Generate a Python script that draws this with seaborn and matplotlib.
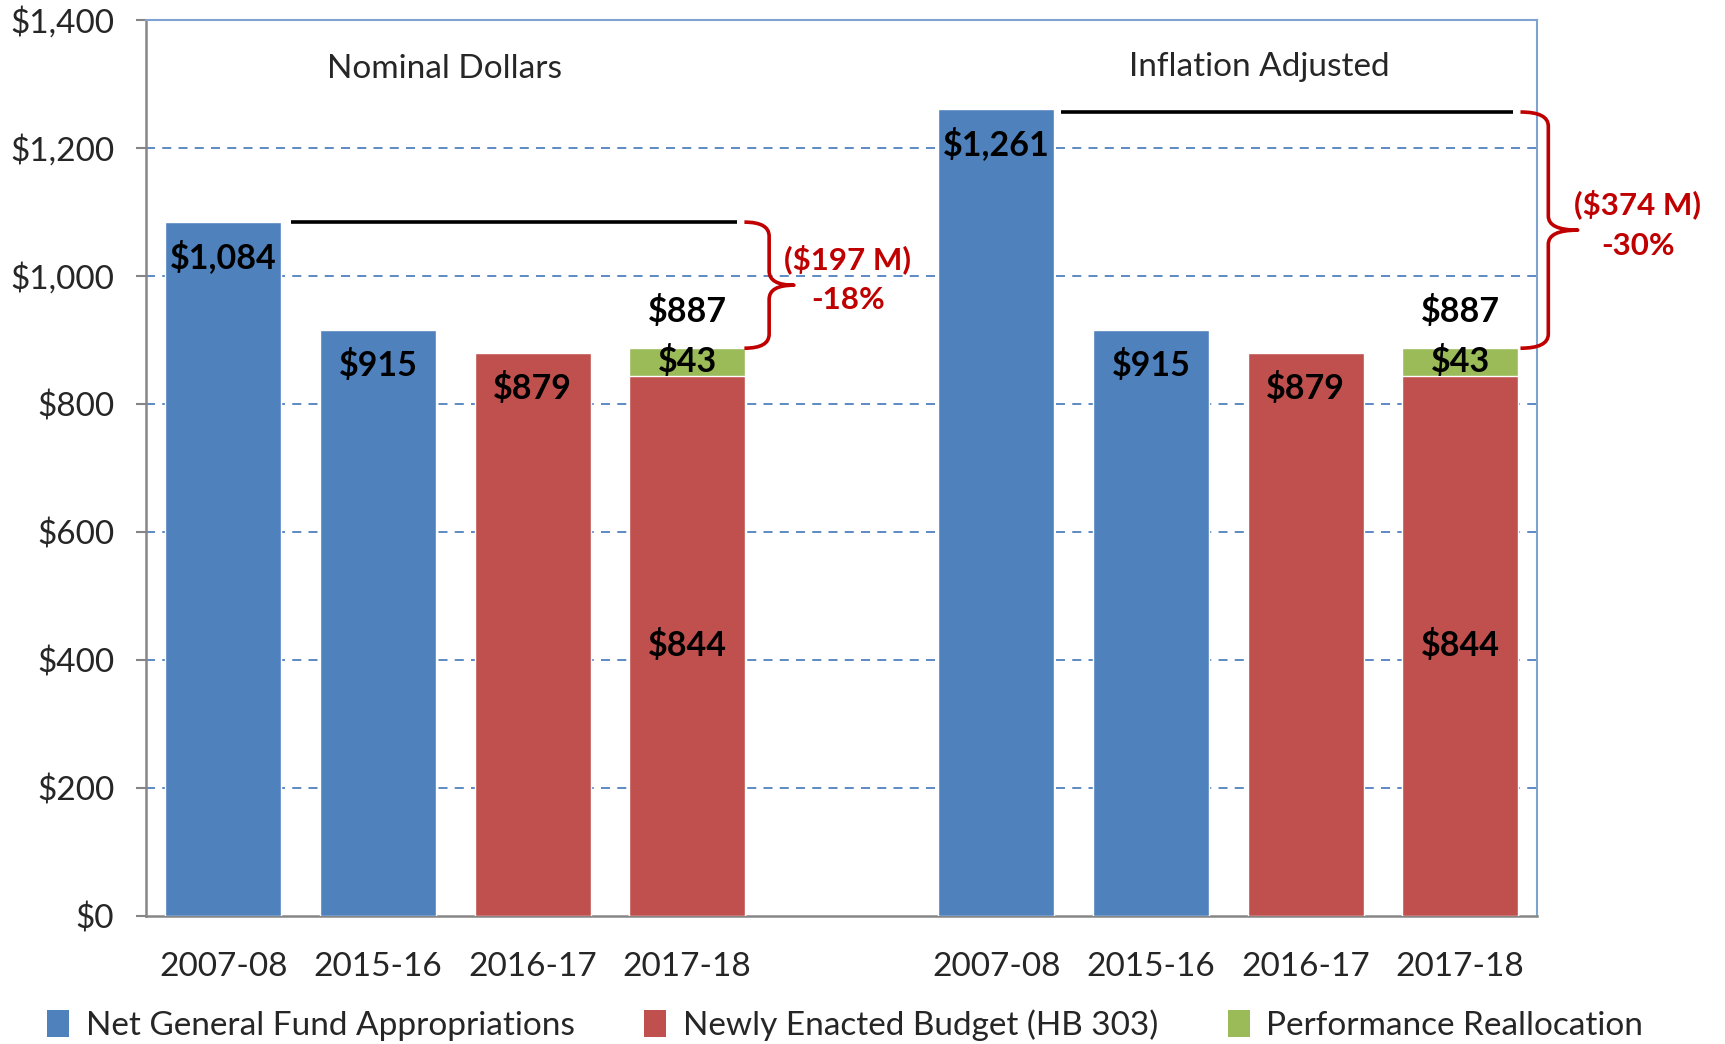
import numpy as np
import pandas as pd
import matplotlib
matplotlib.use("Agg")
import matplotlib.pyplot as plt
from matplotlib.path import Path
from matplotlib.patches import PathPatch, Patch
import seaborn as sns

# ---------------- data ----------------
slots = ["N07", "N15", "N16", "N17", "gap", "I07", "I15", "I16", "I17"]
year_labels = ["2007-08", "2015-16", "2016-17", "2017-18"]

blue_slots = ["N07", "N15", "I07", "I15"]
blue_values = [1084, 915, 1261, 915]          # Net General Fund Appropriations
red_slots = ["N16", "N17", "I16", "I17"]
red_values = [879, 844, 879, 844]             # Newly Enacted Budget (HB 303)
green_slots = ["N17", "I17"]
green_values = [43, 43]                        # Performance Reallocation

panel_titles = ["Nominal Dollars", "Inflation Adjusted"]
baseline_values = [1084, 1261]
current_total = 887
change_labels = ["($197 M)\n-18%", "($374 M)\n-30%"]

series_names = ["Net General Fund Appropriations", "Newly Enacted Budget (HB 303)",
                "Performance Reallocation"]
yticks = [0, 200, 400, 600, 800, 1000, 1200, 1400]

BLUE, RED, GREEN = "#4F81BD", "#C0504D", "#9BBB59"
DARKRED = "#C00000"

# ---------------- figure ----------------
sns.set_style("white")
plt.rcParams["font.family"] = ["Lato", "DejaVu Sans"]

fig = plt.figure(figsize=(17.25, 10.44), dpi=100)
ax = fig.add_axes([0.0847, 0.1226, 0.8066, 0.8584])

df_blue = pd.DataFrame({"slot": blue_slots, "value": blue_values})
df_red = pd.DataFrame({"slot": red_slots, "value": red_values})
red_lookup = dict(zip(red_slots, red_values))
df_green = pd.DataFrame({"slot": green_slots,
                         "value": [red_lookup[s] + g for s, g in zip(green_slots, green_values)]})

common = dict(x="slot", y="value", order=slots, width=0.75, saturation=1,
              errorbar=None, ax=ax, zorder=3)
sns.barplot(data=df_blue, color=BLUE, **common)
sns.barplot(data=df_green, color=GREEN, **common)
sns.barplot(data=df_red, color=RED, **common)

ax.set_xlim(-0.5, 8.5)
ax.set_ylim(0, 1400)
ax.set_xlabel("")
ax.set_ylabel("")

# grid
for v in yticks[1:]:
    ax.axhline(v, color=BLUE, lw=1.3, ls=(0, (5, 4)), zorder=1)

ax.set_yticks(yticks)
ax.set_yticklabels([f"${v:,}" for v in yticks], fontsize=24)
ax.set_xticks([0, 1, 2, 3, 5, 6, 7, 8])
ax.set_xticklabels(year_labels * 2, fontsize=24)
ax.tick_params(axis="y", length=7, width=1.5, color="#868686", pad=16, left=True)
ax.tick_params(axis="x", length=0, pad=26)

for s in ["left", "bottom"]:
    ax.spines[s].set_color("#868686")
    ax.spines[s].set_linewidth(1.8)
for s in ["top", "right"]:
    ax.spines[s].set_color("#7FA3D0")
    ax.spines[s].set_linewidth(1.5)

# ---------------- labels ----------------
pos = {s: i for i, s in enumerate(slots)}
lab_kw = dict(ha="center", va="center", fontsize=24.5, fontweight="bold", color="black", zorder=5)
for s, v in zip(blue_slots, blue_values):
    ax.text(pos[s], v - 55, f"${v:,}", **lab_kw)
for s, v in zip(red_slots, red_values):
    if s in green_slots:
        ax.text(pos[s], v / 2, f"${v:,}", **lab_kw)
    else:
        ax.text(pos[s], v - 55, f"${v:,}", **lab_kw)
for s, g in zip(green_slots, green_values):
    base = red_lookup[s]
    ax.text(pos[s], base + g / 2, f"${g:,}", **lab_kw)
    ax.text(pos[s], base + g + 57, f"${base + g:,}", **lab_kw)

ax.text(1.43, 1323, panel_titles[0], ha="center", va="center", fontsize=24)
ax.text(6.7, 1327, panel_titles[1], ha="center", va="center", fontsize=24)

# baseline lines
ax.plot([0.44, 3.32], [baseline_values[0]] * 2, color="black", lw=2.6, zorder=4,
        solid_capstyle="butt")
ax.plot([5.42, 8.34], [baseline_values[1] - 5] * 2, color="black", lw=2.6, zorder=4,
        solid_capstyle="butt")


def brace(x0, x1, x2, ytop, ybot, d=22):
    ymid = (ytop + ybot) / 2
    verts = [(x0, ytop), (x1, ytop), (x1, ytop - d),
             (x1, ymid + d), (x1, ymid), (x2, ymid),
             (x1, ymid), (x1, ymid - d),
             (x1, ybot + d), (x1, ybot), (x0, ybot)]
    codes = [Path.MOVETO, Path.CURVE3, Path.CURVE3,
             Path.LINETO, Path.CURVE3, Path.CURVE3,
             Path.CURVE3, Path.CURVE3,
             Path.LINETO, Path.CURVE3, Path.CURVE3]
    p = PathPatch(Path(verts, codes), fill=False, edgecolor=DARKRED, lw=2.6,
                  clip_on=False, zorder=6, capstyle="butt", joinstyle="round")
    ax.add_patch(p)


brace(3.37, 3.53, 3.69, baseline_values[0], current_total)
brace(8.39, 8.57, 8.76, baseline_values[1] - 5, current_total)

ax.text(4.04, 995, change_labels[0], ha="center", va="center", fontsize=22.5,
        fontweight="bold", color=DARKRED, linespacing=1.55, clip_on=False)
ax.text(9.15, 1080, change_labels[1], ha="center", va="center", fontsize=22.5,
        fontweight="bold", color=DARKRED, linespacing=1.55, clip_on=False)

# ---------------- legend ----------------
handles = [Patch(facecolor=c, edgecolor="none") for c in (BLUE, RED, GREEN)]
fig.legend(handles, series_names, loc="center", bbox_to_anchor=(0.49, 0.018),
           ncol=3, frameon=False, fontsize=24, handlelength=0.65, handleheight=0.85,
           handletextpad=0.5, columnspacing=2.1)

fig.savefig("out.png", dpi=100)
